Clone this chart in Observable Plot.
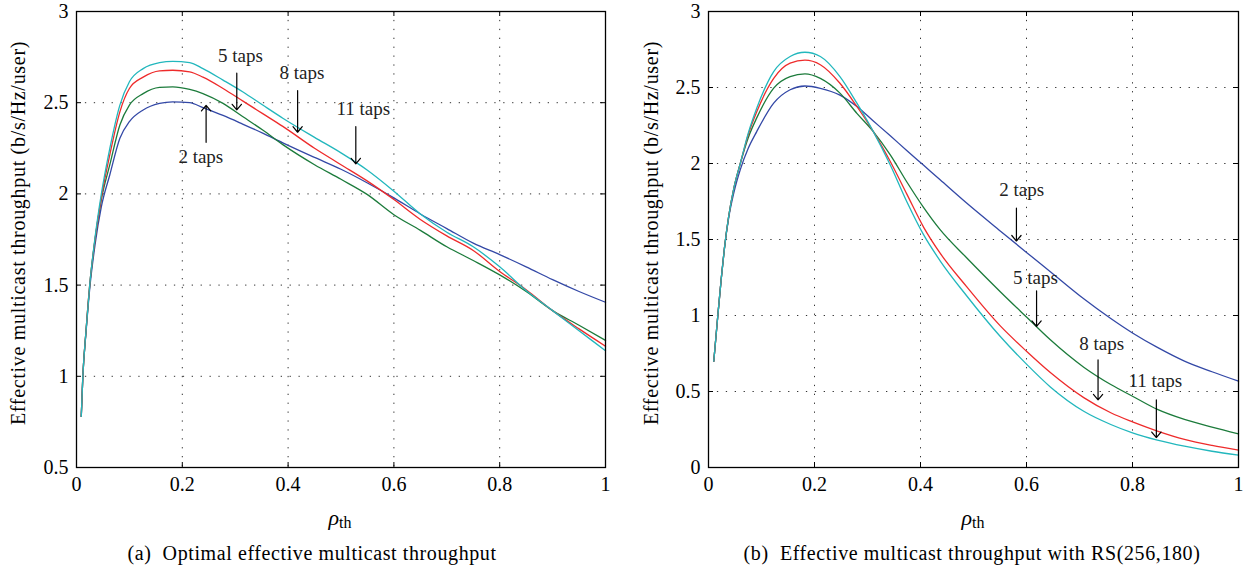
<!DOCTYPE html>
<html><head><meta charset="utf-8">
<script src="https://cdn.jsdelivr.net/npm/d3@7"></script>
<script src="https://cdn.jsdelivr.net/npm/@observablehq/plot@0.6"></script>
<style>
body{margin:0;background:#fff;width:1248px;height:575px;overflow:hidden;position:relative;font-family:"Liberation Serif",serif;color:#000;}
.panel{position:absolute;top:0;}
.ylab{position:absolute;font-size:20px;letter-spacing:0.7px;white-space:nowrap;transform:translate(-50%,-50%) rotate(-90deg);}
.xlab{position:absolute;font-size:22px;white-space:nowrap;transform:translate(-50%,-50%);}
.xlab sub{font-size:16px;font-style:normal;vertical-align:-3px;}
.cap{position:absolute;font-size:20px;letter-spacing:0.6px;white-space:nowrap;transform:translate(-50%,-50%);}
</style></head><body>
<div id="a" class="panel" style="left:0px"></div>
<div id="b" class="panel" style="left:632px"></div>
<div class="ylab" style="left:18px;top:233px">Effective multicast throughput (b/s/Hz/user)</div>
<div class="ylab" style="left:651px;top:233px">Effective multicast throughput (b/s/Hz/user)</div>
<div class="xlab" style="left:340px;top:518px"><i>ρ</i><sub>th</sub></div>
<div class="xlab" style="left:973px;top:518px"><i>ρ</i><sub>th</sub></div>
<div class="cap" style="left:312px;top:553px">(a)&nbsp; Optimal effective multicast throughput</div>
<div class="cap" style="left:972px;top:553px">(b)&nbsp; Effective multicast throughput with RS(256,180)</div>
<script>
// ---------- Panel (a) data ----------
const xA  = [0.009, 0.012, 0.018, 0.025, 0.035, 0.047, 0.063, 0.082, 0.10, 0.126, 0.157, 0.182, 0.214, 0.239, 0.277, 0.314, 0.352, 0.39, 0.45, 0.50, 0.55, 0.60, 0.65, 0.70, 0.75, 0.80, 0.85, 0.90, 0.95, 1.0];
const a2  = [0.78, 1.0, 1.24, 1.48, 1.72, 1.93, 2.105, 2.305, 2.396, 2.46, 2.496, 2.505, 2.5, 2.473, 2.43, 2.383, 2.333, 2.28, 2.20, 2.135, 2.06, 1.978, 1.89, 1.81, 1.73, 1.667, 1.60, 1.53, 1.465, 1.406];
const a5  = [0.78, 1.0, 1.25, 1.5, 1.75, 1.97, 2.16, 2.378, 2.487, 2.55, 2.584, 2.587, 2.573, 2.55, 2.496, 2.424, 2.35, 2.27, 2.16, 2.08, 1.996, 1.886, 1.80, 1.71, 1.635, 1.556, 1.465, 1.36, 1.28, 1.197];
const a8  = [0.78, 1.0, 1.25, 1.5, 1.75, 1.98, 2.215, 2.45, 2.578, 2.64, 2.675, 2.678, 2.669, 2.64, 2.578, 2.51, 2.44, 2.37, 2.25, 2.16, 2.07, 1.969, 1.86, 1.77, 1.69, 1.575, 1.475, 1.36, 1.26, 1.165];
const a11 = [0.78, 1.0, 1.25, 1.5, 1.76, 2.0, 2.25, 2.487, 2.615, 2.687, 2.72, 2.727, 2.72, 2.687, 2.624, 2.56, 2.487, 2.415, 2.31, 2.225, 2.13, 2.015, 1.89, 1.79, 1.71, 1.60, 1.47, 1.36, 1.25, 1.14];
const yTicksA = [0.5, 1, 1.5, 2, 2.5, 3];
const labA   = ["2 taps", "5 taps", "8 taps", "11 taps"];
const labAx  = [0.235, 0.310, 0.426, 0.542];
const labAy  = [2.205, 2.759, 2.666, 2.468];
const arrAx  = [0.245, 0.303, 0.418, 0.528];
const arrAy1 = [2.283, 2.662, 2.567, 2.369];
const arrAy2 = [2.485, 2.461, 2.338, 2.165];

// ---------- Panel (b) data ----------
const xB  = [0.010, 0.0176, 0.024, 0.030, 0.038, 0.048, 0.060, 0.075, 0.091, 0.123, 0.154, 0.182, 0.211, 0.248, 0.28, 0.311, 0.343, 0.374, 0.406, 0.437, 0.487, 0.551, 0.6, 0.645, 0.708, 0.759, 0.8, 0.847, 0.898, 0.95, 1.0];
const b2  = [0.70, 1.0, 1.24, 1.44, 1.64, 1.81, 1.96, 2.10, 2.21, 2.397, 2.485, 2.51, 2.495, 2.45, 2.375, 2.28, 2.182, 2.086, 1.988, 1.893, 1.74, 1.555, 1.415, 1.288, 1.11, 0.98, 0.885, 0.79, 0.70, 0.63, 0.568];
const b5  = [0.70, 1.0, 1.24, 1.44, 1.65, 1.84, 2.0, 2.17, 2.30, 2.496, 2.572, 2.59, 2.56, 2.463, 2.33, 2.21, 2.057, 1.88, 1.71, 1.565, 1.38, 1.155, 0.99, 0.84, 0.66, 0.546, 0.469, 0.382, 0.316, 0.265, 0.221];
const b8  = [0.70, 1.0, 1.24, 1.44, 1.65, 1.84, 2.0, 2.19, 2.34, 2.56, 2.66, 2.68, 2.65, 2.528, 2.375, 2.21, 2.013, 1.80, 1.58, 1.41, 1.19, 0.93, 0.765, 0.625, 0.46, 0.36, 0.30, 0.24, 0.185, 0.145, 0.114];
const b11 = [0.70, 1.0, 1.24, 1.44, 1.65, 1.84, 2.0, 2.2, 2.364, 2.605, 2.704, 2.732, 2.704, 2.572, 2.397, 2.21, 1.99, 1.75, 1.53, 1.36, 1.13, 0.86, 0.68, 0.53, 0.37, 0.283, 0.228, 0.18, 0.14, 0.107, 0.081];
const yTicksB = [0, 0.5, 1, 1.5, 2, 2.5, 3];
const labB   = ["2 taps", "5 taps", "8 taps", "11 taps"];
const labBx  = [0.591, 0.617, 0.742, 0.843];
const labBy  = [1.829, 1.25, 0.811, 0.570];
const arrBx  = [0.581, 0.619, 0.735, 0.845];
const arrBy1 = [1.706, 1.162, 0.708, 0.445];
const arrBy2 = [1.49, 0.928, 0.445, 0.197];

const xTicks = [0, 0.2, 0.4, 0.6, 0.8, 1];
const seriesNames = ["2 taps", "5 taps", "8 taps", "11 taps"];
const seriesColors = ["#3348a6", "#1c7b3b", "#ee2b2b", "#22b7bd"];

function makePanel(el, cfg) {
  const W = cfg.width, H = 500, mt = 11, mb = 33, ml = 76, mr = cfg.mr;
  const ph = H - mt - mb, pw = W - ml - mr;
  const rows = [];
  cfg.series.forEach((ys, k) => ys.forEach((y, i) => rows.push({x: cfg.xs[i], y, s: seriesNames[k]})));
  const ann = cfg.lab.map((t, i) => ({t, tx: cfg.labx[i], ty: cfg.laby[i], ax: cfg.arrx[i], ay1: cfg.arry1[i], ay2: cfg.arry2[i]}));
  const inner = cfg.yTicks.slice(1, -1);
  const grid = {stroke: "#333", strokeDasharray: "1.3,7.6", strokeWidth: 1};
  const tk = {stroke: "#000", strokeWidth: 1};
  const fmt = d => String(d);
  const p = Plot.plot({
    width: W, height: H, marginTop: mt, marginBottom: mb, marginLeft: ml, marginRight: mr,
    style: {fontFamily: "'Liberation Serif', serif", fontSize: "20px", color: "#000", background: "#fff", overflow: "visible"},
    x: {domain: [0, 1], label: null},
    y: {domain: cfg.ydomain, label: null},
    color: {domain: seriesNames, range: seriesColors},
    marks: [
      Plot.ruleX(xTicks.slice(1, -1), grid),
      Plot.ruleY(inner, grid),
      Plot.ruleX(xTicks, {...tk, insetTop: ph - 5}),
      Plot.ruleX(xTicks, {...tk, insetBottom: ph - 5}),
      Plot.ruleY(cfg.yTicks, {...tk, insetRight: pw - 5}),
      Plot.ruleY(cfg.yTicks, {...tk, insetLeft: pw - 5}),
      Plot.line(rows, {x: "x", y: "y", z: "s", stroke: "s", curve: "monotone-x", strokeWidth: 1.3}),
      Plot.arrow(ann, {x1: "ax", y1: "ay1", x2: "ax", y2: "ay2", stroke: "#000", strokeWidth: 1.2, headLength: 9, headAngle: 80}),
      Plot.text(ann, {x: "tx", y: "ty", text: "t", fontSize: 19, fill: "#222", fontFamily: "'Liberation Serif', serif", letterSpacing: "0.5px"}),
      Plot.frame({stroke: "#000", strokeWidth: 1.3}),
      Plot.axisX(xTicks, {tickSize: 0, tickPadding: 9, tickFormat: fmt, fontSize: 20}),
      Plot.axisY(cfg.yTicks, {tickSize: 0, tickPadding: 8, tickFormat: fmt, fontSize: 20})
    ]
  });
  document.getElementById(el).appendChild(p);
}

makePanel("a", {width: 620, mr: 15, xs: xA, series: [a2, a5, a8, a11], ydomain: [0.5, 3], yTicks: yTicksA,
  lab: labA, labx: labAx, laby: labAy, arrx: arrAx, arry1: arrAy1, arry2: arrAy2});
makePanel("b", {width: 616, mr: 10, xs: xB, series: [b2, b5, b8, b11], ydomain: [0, 3], yTicks: yTicksB,
  lab: labB, labx: labBx, laby: labBy, arrx: arrBx, arry1: arrBy1, arry2: arrBy2});
</script>
</body></html>
